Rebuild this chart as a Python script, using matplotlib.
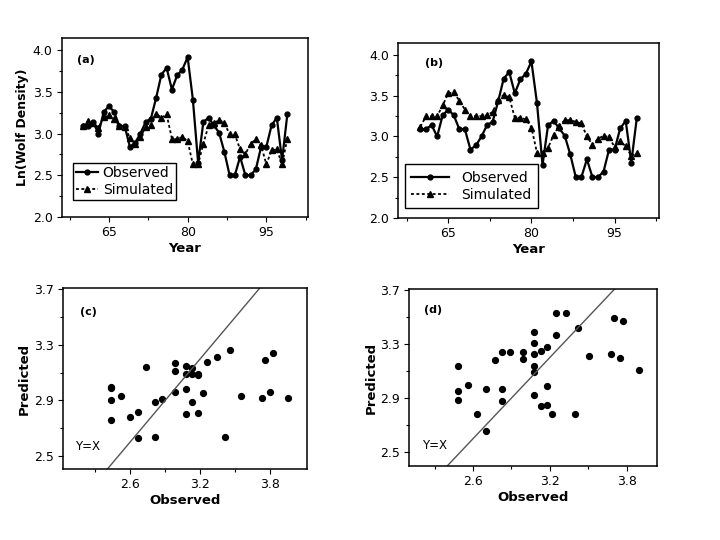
import matplotlib
matplotlib.use("Agg")
import matplotlib.pyplot as plt
from matplotlib.ticker import FixedLocator, FormatStrFormatter

# ---- data ----
years = list(range(1960, 2000))

observed = [3.09, 3.09, 3.14, 3.00, 3.26, 3.33, 3.26, 3.09, 3.09, 2.84,
            2.89, 3.00, 3.14, 3.18, 3.43, 3.71, 3.79, 3.53, 3.70, 3.77,
            3.92, 3.41, 2.65, 3.14, 3.19, 3.10, 3.01, 2.78, 2.50, 2.50,
            2.72, 2.50, 2.50, 2.57, 2.84, 2.84, 3.10, 3.19, 2.68, 3.23]

simulated_a = [3.09, 3.15, 3.13, 3.07, 3.20, 3.22, 3.17, 3.09, 3.08, 2.95,
               2.87, 2.96, 3.08, 3.10, 3.24, 3.19, 3.23, 2.94, 2.93, 2.96,
               2.91, 2.63, 2.63, 2.88, 3.10, 3.13, 3.16, 3.13, 2.99, 2.99,
               2.81, 2.75, 2.88, 2.93, 2.86, 2.63, 2.80, 2.81, 2.63, 2.94]

simulated_b = [3.12, 3.25, 3.25, 3.25, 3.38, 3.53, 3.54, 3.44, 3.33, 3.25,
               3.25, 3.25, 3.26, 3.30, 3.45, 3.51, 3.48, 3.23, 3.23, 3.21,
               3.11, 2.80, 2.80, 2.86, 3.02, 3.13, 3.20, 3.20, 3.18, 3.16,
               3.00, 2.90, 2.97, 3.01, 2.99, 2.87, 2.94, 2.88, 2.76, 2.80]

c_obs = [2.44, 2.44, 2.44, 2.44, 2.52, 2.60, 2.67, 2.67, 2.74, 2.81,
         2.81, 2.87, 2.98, 2.98, 2.98, 3.08, 3.08, 3.08, 3.08, 3.13,
         3.13, 3.13, 3.18, 3.18, 3.18, 3.22, 3.26, 3.34, 3.41, 3.45,
         3.55, 3.73, 3.75, 3.80, 3.82, 3.95]
c_pred = [3.00, 2.99, 2.90, 2.76, 2.93, 2.78, 2.82, 2.63, 3.14, 2.89,
          2.64, 2.91, 3.17, 3.11, 2.96, 3.15, 3.09, 2.98, 2.80, 3.13,
          3.09, 2.89, 3.09, 3.08, 2.81, 2.95, 3.18, 3.21, 2.64, 3.26,
          2.93, 2.92, 3.19, 2.96, 3.24, 2.92]

d_obs = [2.48, 2.48, 2.48, 2.56, 2.63, 2.70, 2.70, 2.77, 2.83, 2.83,
         2.83, 2.89, 2.99, 2.99, 3.08, 3.08, 3.08, 3.08, 3.08, 3.08,
         3.13, 3.13, 3.18, 3.18, 3.18, 3.22, 3.25, 3.25, 3.33, 3.40,
         3.42, 3.51, 3.68, 3.70, 3.75, 3.77, 3.90]
d_pred = [3.14, 2.95, 2.89, 3.00, 2.78, 2.97, 2.66, 3.18, 3.24, 2.97,
          2.88, 3.24, 3.24, 3.19, 3.39, 3.31, 3.23, 3.14, 3.09, 2.92,
          2.84, 3.25, 3.28, 2.99, 2.85, 2.78, 3.53, 3.37, 3.53, 2.78,
          3.42, 3.21, 3.23, 3.49, 3.20, 3.47, 3.11]

year_ticks = [1965, 1980, 1995]
year_ticklabels = ["65", "80", "95"]
obs_ticks = [2.6, 3.2, 3.8]
pred_ticks = [2.5, 2.9, 3.3, 3.7]


def style_axes(ax):
    for sp in ax.spines.values():
        sp.set_linewidth(1.1)
    ax.tick_params(which='major', direction='out', length=3.5, width=0.8,
                   labelsize=9, pad=3, colors='black')
    ax.tick_params(which='minor', direction='out', length=2, width=0.8)


def time_panel(ax, sim, tag, legend_anchor, handlelength, textpad, borderpad):
    ax.plot(years, observed, '-', color='black', lw=1.6, marker='o', ms=3.5,
            label='Observed')
    ax.plot(years, sim, color='black', lw=1.3, ls=(0, (1.6, 1.4)), marker='^',
            ms=4.5, label='Simulated')
    ax.set_xlim(1956, 2003)
    ax.set_ylim(2.0, 4.15)
    ax.xaxis.set_major_locator(FixedLocator(year_ticks))
    ax.set_xticklabels(year_ticklabels)
    ax.xaxis.set_minor_locator(FixedLocator([1957.5, 1972.5, 1987.5, 2002.5]))
    ax.yaxis.set_major_locator(FixedLocator([2.0, 2.5, 3.0, 3.5, 4.0]))
    ax.yaxis.set_minor_locator(FixedLocator([2.25, 2.75, 3.25, 3.75]))
    ax.yaxis.set_major_formatter(FormatStrFormatter('%.1f'))
    style_axes(ax)
    ax.set_xlabel('Year', fontweight='bold', fontsize=9.5, labelpad=2)
    ax.text(tag[1], tag[2], tag[0], transform=ax.transAxes, fontsize=8,
            fontweight='bold', va='center', ha='left')
    leg = ax.legend(loc='lower left', bbox_to_anchor=legend_anchor,
                    borderaxespad=0, fancybox=False, framealpha=1,
                    edgecolor='black', fontsize=10, numpoints=1,
                    handlelength=handlelength, handletextpad=textpad,
                    borderpad=borderpad, labelspacing=0.25)
    leg.get_frame().set_linewidth(1.0)


def scatter_panel(ax, xs, ys, tag, xlim, ylim, yx_pos):
    ax.plot(xs, ys, 'o', color='black', ms=4.2, ls='none')
    ax.plot([2.0, 4.2], [2.0, 4.2], color='#555555', lw=1.0)
    ax.set_xlim(*xlim)
    ax.set_ylim(*ylim)
    ax.xaxis.set_major_locator(FixedLocator(obs_ticks))
    ax.xaxis.set_minor_locator(FixedLocator([2.3, 2.9, 3.5]))
    ax.yaxis.set_major_locator(FixedLocator(pred_ticks))
    ax.yaxis.set_minor_locator(FixedLocator([2.7, 3.1, 3.5]))
    ax.xaxis.set_major_formatter(FormatStrFormatter('%.1f'))
    ax.yaxis.set_major_formatter(FormatStrFormatter('%.1f'))
    style_axes(ax)
    ax.set_xlabel('Observed', fontweight='bold', fontsize=9.5, labelpad=2)
    ax.set_ylabel('Predicted', fontweight='bold', fontsize=9.5, labelpad=2)
    ax.text(tag[1], tag[2], tag[0], transform=ax.transAxes, fontsize=8,
            fontweight='bold', va='center', ha='left')
    ax.text(yx_pos[0], yx_pos[1], 'Y=X', fontsize=8.5, va='center', ha='left')


fig = plt.figure(figsize=(7.2, 5.4), dpi=100)

ax_a = fig.add_axes([0.0857, 0.5987, 0.3425, 0.3309])
ax_b = fig.add_axes([0.5532, 0.5963, 0.3621, 0.3246])
ax_c = fig.add_axes([0.0871, 0.1309, 0.3389, 0.3352])
ax_d = fig.add_axes([0.5685, 0.1376, 0.3444, 0.3267])

time_panel(ax_a, simulated_a, ('(a)', 0.062, 0.877), (0.045, 0.093),
           1.6, 0.35, 0.2)
ax_a.set_ylabel('Ln(Wolf Density)', fontweight='bold', fontsize=9, labelpad=3)
time_panel(ax_b, simulated_b, ('(b)', 0.102, 0.886), (0.026, 0.055),
           2.7, 0.9, 0.45)

scatter_panel(ax_c, c_obs, c_pred, ('(c)', 0.071, 0.871),
              (2.024, 4.11), (2.404, 3.707), (2.13, 2.567))
scatter_panel(ax_d, d_obs, d_pred, ('(d)', 0.060, 0.883),
              (2.103, 4.04), (2.401, 3.705), (2.20, 2.549))

fig.savefig('out.png', dpi=100)
